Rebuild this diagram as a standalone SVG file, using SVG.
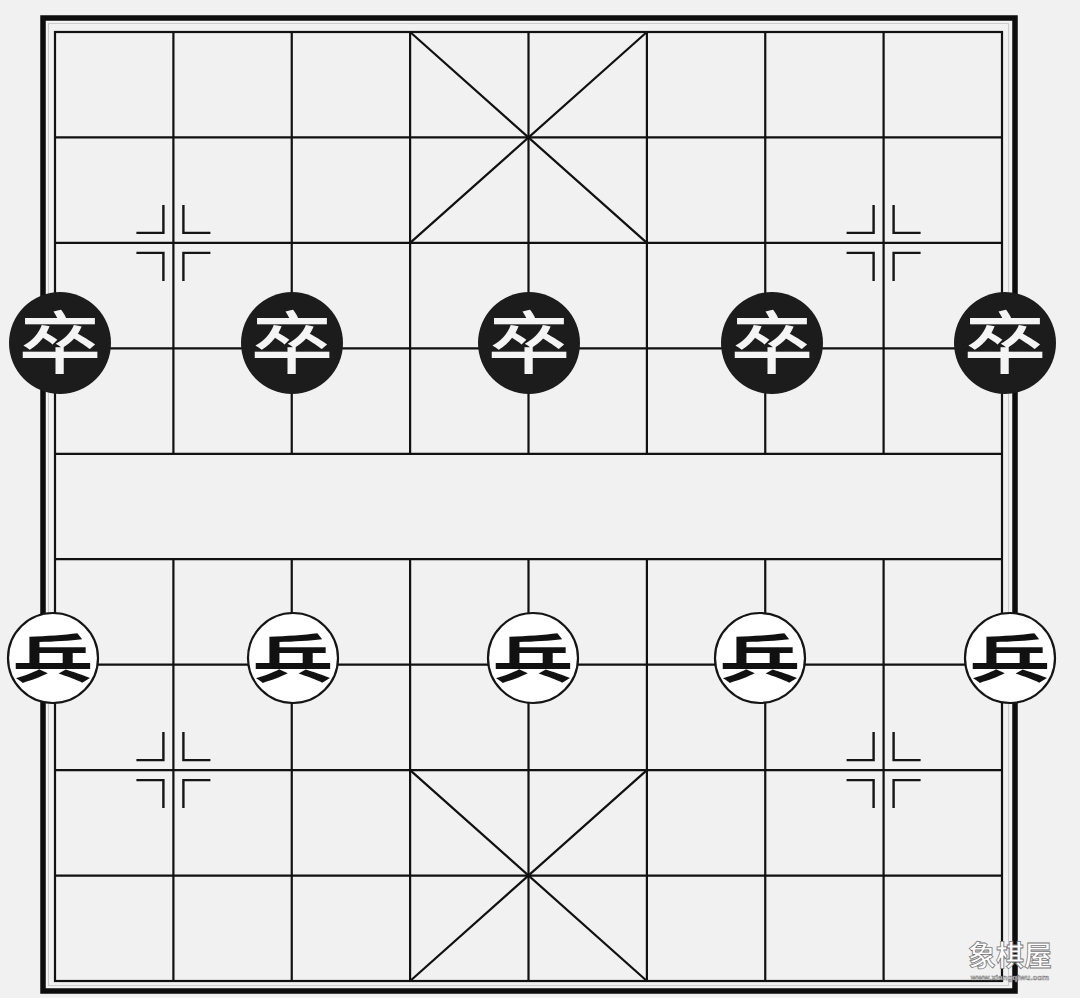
<svg xmlns="http://www.w3.org/2000/svg" width="1080" height="998" viewBox="0 0 1080 998">
<style>
.g{stroke:#111;stroke-width:2.2;fill:none}
.m{stroke:#151515;stroke-width:2.4;fill:none}
.bk{fill:#1c1c1c}
.wt{fill:#fff;stroke:#151515;stroke-width:2.2}
.cb{font-family:"Noto Sans CJK SC","Noto Sans CJK JP",sans-serif;font-weight:500;font-size:68px;fill:#f4f4f4;text-anchor:middle}
.cw{font-family:"Noto Sans CJK SC","Noto Sans CJK JP",sans-serif;font-weight:700;font-size:60px;fill:#111;text-anchor:middle}
</style>
<defs>
<g id="mark" class="m">
<path d="M-37 -10H-10V-38M37 -10H10V-38M-37 10H-10V38M37 10H10V38"/>
</g>
<g id="zu"><circle cx="0" cy="0" r="51" class="bk"/><text transform="translate(0 25) scale(1.22 1)" class="cb">卒</text></g>
<g id="bing"><circle cx="0" cy="0" r="45" class="wt"/><text transform="translate(0 20) scale(1.35 0.88)" class="cw">兵</text></g>
</defs>
<rect width="1080" height="998" fill="#f1f1f1"/>
<g id="board">
<rect x="43" y="18" width="972" height="973" fill="none" stroke="#0d0d0d" stroke-width="5.5"/>
<rect x="48.5" y="23.5" width="960" height="962" fill="none" stroke="#ccc" stroke-width="1"/>
<rect x="55" y="32" width="947" height="949" class="g"/>
<g class="g">
<path d="M55 137.4H1002M55 242.9H1002M55 348.3H1002M55 453.8H1002M55 559.2H1002M55 664.7H1002M55 770.1H1002M55 875.6H1002"/>
<path d="M173.4 32V453.8M291.75 32V453.8M410.1 32V453.8M528.5 32V453.8M646.9 32V453.8M765.25 32V453.8M883.6 32V453.8"/>
<path d="M173.4 559.2V981M291.75 559.2V981M410.1 559.2V981M528.5 559.2V981M646.9 559.2V981M765.25 559.2V981M883.6 559.2V981"/>
<path d="M410.1 32L646.9 242.9M646.9 32L410.1 242.9M410.1 770.1L646.9 981M646.9 770.1L410.1 981"/>
</g>
</g>
<g id="markers">
<use href="#mark" x="173.4" y="242.9"/>
<use href="#mark" x="883.6" y="242.9"/>
<use href="#mark" x="173.4" y="770.1"/>
<use href="#mark" x="883.6" y="770.1"/>
</g>
<g id="black1"><use href="#zu" x="60" y="343"/></g>
<g id="black2"><use href="#zu" x="292" y="343"/></g>
<g id="black3"><use href="#zu" x="529" y="343"/></g>
<g id="black4"><use href="#zu" x="772" y="343"/></g>
<g id="black5"><use href="#zu" x="1005" y="343"/></g>
<g id="red1"><use href="#bing" x="53" y="658"/></g>
<g id="red2"><use href="#bing" x="293" y="658"/></g>
<g id="red3"><use href="#bing" x="533" y="658"/></g>
<g id="red4"><use href="#bing" x="760" y="658"/></g>
<g id="red5"><use href="#bing" x="1010" y="658"/></g>
<g id="watermark" font-family="Noto Sans CJK SC,sans-serif" fill="#fff" stroke="#777" stroke-width="0.8" text-anchor="middle">
<text x="1010" y="966" font-size="28" font-weight="700">象棋屋</text>
<text x="1010" y="980" font-size="8" font-weight="700" stroke-width="0.5" font-family="Liberation Sans,sans-serif">www.xiangqiwu.com</text>
</g>
</svg>
